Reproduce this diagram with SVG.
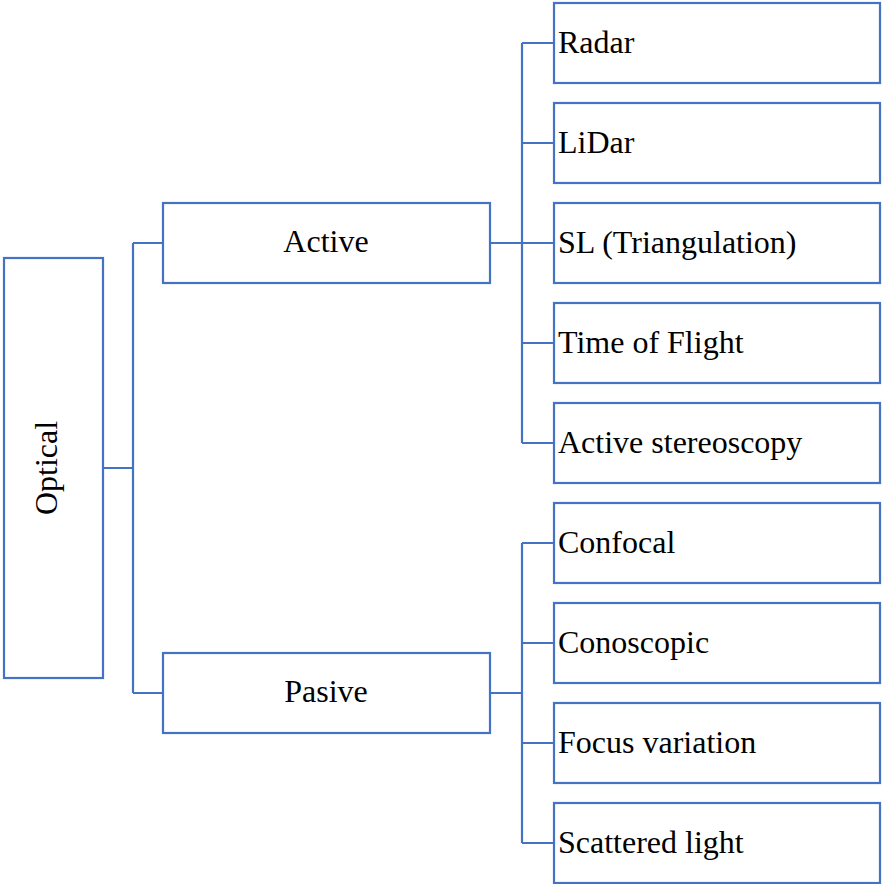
<svg xmlns="http://www.w3.org/2000/svg" width="882" height="884" viewBox="0 0 882 884">
<style>
.box{fill:#fff;stroke:#4472C4;stroke-width:2.2}
.lbl{font-family:"Liberation Serif","Times New Roman",serif;font-size:32px;fill:#000}
.c{text-anchor:middle}
.conn{fill:none;stroke:#4472C4;stroke-width:2.2}
</style>
<rect width="882" height="884" fill="#fff"/>
<g id="connectors" class="conn">
<path d="M103 468H133M133 243V693M133 243H163M133 693H163"/>
<path d="M490 243H522M522 43V443M522 43H554M522 143H554M522 243H554M522 343H554M522 443H554"/>
<path d="M490 693H522M522 543V843M522 543H554M522 643H554M522 743H554M522 843H554"/>
</g>
<g id="optical"><rect class="box" x="4" y="258" width="99" height="420"/><text class="lbl c" transform="translate(57 468) rotate(-90)">Optical</text></g>
<g id="active"><rect class="box" x="163" y="203" width="327" height="80"/><text class="lbl c" x="326" y="252">Active</text></g>
<g id="pasive"><rect class="box" x="163" y="653" width="327" height="80"/><text class="lbl c" x="326" y="702">Pasive</text></g>
<g id="radar"><rect class="box" x="554" y="3" width="326" height="80"/><text class="lbl" x="558" y="53">Radar</text></g>
<g id="lidar"><rect class="box" x="554" y="103" width="326" height="80"/><text class="lbl" x="558" y="153">LiDar</text></g>
<g id="sl"><rect class="box" x="554" y="203" width="326" height="80"/><text class="lbl" x="558" y="253">SL (Triangulation)</text></g>
<g id="tof"><rect class="box" x="554" y="303" width="326" height="80"/><text class="lbl" x="558" y="353">Time of Flight</text></g>
<g id="stereo"><rect class="box" x="554" y="403" width="326" height="80"/><text class="lbl" x="558" y="453">Active stereoscopy</text></g>
<g id="confocal"><rect class="box" x="554" y="503" width="326" height="80"/><text class="lbl" x="558" y="553">Confocal</text></g>
<g id="conoscopic"><rect class="box" x="554" y="603" width="326" height="80"/><text class="lbl" x="558" y="653">Conoscopic</text></g>
<g id="focus"><rect class="box" x="554" y="703" width="326" height="80"/><text class="lbl" x="558" y="753">Focus variation</text></g>
<g id="scattered"><rect class="box" x="554" y="803" width="326" height="80"/><text class="lbl" x="558" y="853">Scattered light</text></g>
</svg>
